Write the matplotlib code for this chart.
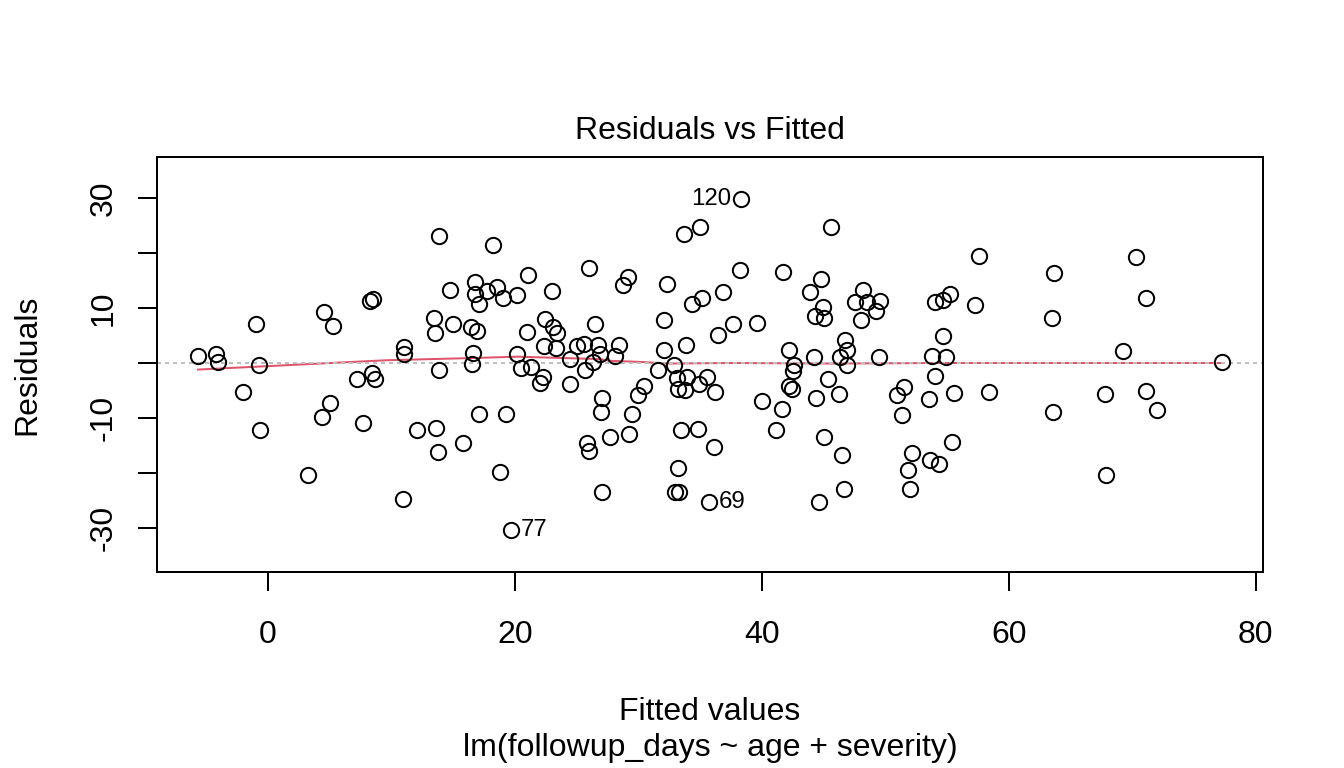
import matplotlib
matplotlib.use('Agg')
import matplotlib.pyplot as plt

# fitted values and residuals
fitted = [-5.67, -4.19, -4.05, -0.97, -0.70, -2.03, -0.62, 3.27, 4.56, 5.24, 5.05, 4.40, 8.24, 8.51, 7.21, 8.43, 8.64, 7.70,
          13.88, 18.23, 26.01, 21.07, 16.80, 14.77, 17.72, 18.53, 16.75, 19.02, 20.15, 17.12, 22.99, 13.45, 13.53, 14.99,
          16.42, 16.94, 20.99, 22.42, 23.07, 23.39, 26.50, 11.05, 11.02, 16.59, 16.53, 13.88, 20.15, 22.37, 23.34, 20.48,
          21.26, 24.45, 25.01, 25.61, 26.69, 26.90, 26.36, 25.66, 22.31, 22.04, 24.42, 27.03, 26.96, 17.07, 19.26, 12.05,
          13.61, 27.71, 15.75, 13.78, 25.82, 26.01, 18.80, 10.89, 27.03, 19.67,
          28.39, 28.12, 28.74, 29.12, 32.28, 33.71, 35.03, 38.31, 38.25, 34.33, 35.17, 36.87, 41.73, 44.76, 43.92, 32.04,
          37.63, 36.47, 39.60, 44.95, 44.33, 45.06, 32.04, 33.87, 31.58, 32.85, 33.12, 33.93, 33.17, 33.79, 34.93, 35.55,
          36.17, 30.44, 29.93, 29.50, 29.23, 33.44, 34.79, 36.11, 33.17, 32.98, 33.31, 35.71, 42.16, 42.57, 42.49, 42.20,
          42.41, 44.19, 45.32, 40.03, 41.63, 44.41, 41.14, 45.06, 44.65,
          45.62, 48.19, 47.54, 48.51, 49.54, 49.27, 48.00, 46.70, 46.86, 46.35, 46.90, 49.51, 46.25, 46.46, 46.62, 50.95,
          51.48, 51.32, 52.19, 51.84, 51.97, 53.59, 54.32, 55.43, 53.54, 55.54, 54.05, 53.78, 54.94, 54.67, 54.05, 54.64,
          55.24, 57.24, 57.59, 58.37,
          63.70, 63.53, 63.56, 70.28, 71.09, 69.29, 67.83, 71.15, 72.02, 67.88, 77.31]
resid = [1.2, 1.6, 0.1, 7.0, -0.4, -5.2, -12.1, -20.4, 9.3, 6.8, -7.2, -9.8, 11.3, 11.6, -3.0, -1.9, -3.0, -11.0,
         23.1, 21.5, 17.3, 16.0, 14.8, 13.3, 13.0, 13.8, 12.5, 11.9, 12.4, 10.8, 13.0, 8.1, 5.4, 7.0,
         6.5, 5.9, 5.7, 8.0, 6.5, 5.5, 7.0, 2.9, 1.7, 1.9, -0.1, -1.3, 1.6, 3.1, 2.8, -1.0,
         -0.8, 0.8, 3.1, 3.5, 3.2, 1.7, 0.1, -1.3, -2.6, -3.7, -3.9, -6.3, -9.0, -9.2, -9.2, -12.1,
         -11.8, -13.5, -14.6, -16.1, -14.5, -16.0, -19.8, -24.7, -23.5, -30.3,
         3.3, 1.3, 14.1, 15.6, 14.3, 23.5, 24.7, 29.8, 16.9, 10.7, 11.9, 12.9, 16.5, 15.3, 12.9, 7.9,
         7.0, 5.1, 7.3, 10.1, 8.5, 8.2, 2.4, 3.3, -1.2, -0.3, -2.7, -2.5, -4.7, -5.0, -3.9, -2.5,
         -5.3, -4.1, -5.9, -9.3, -13.0, -12.2, -12.0, -15.3, -19.1, -23.5, -23.5, -25.2, 2.4, -0.4, -1.5, -4.2,
         -4.7, 1.1, -3.0, -6.9, -8.4, -6.4, -12.2, -13.5, -25.2,
         24.8, 13.3, 11.0, 11.0, 11.2, 9.4, 7.8, 4.2, 2.3, 1.0, -0.4, 1.1, -5.7, -16.7, -22.9, -5.8,
         -4.4, -9.4, -16.3, -19.4, -23.0, -17.6, -18.4, -14.3, -6.5, -5.5, -2.3, 1.3, 1.0, 4.9, 11.0, 11.5,
         12.6, 10.5, 19.5, -5.3,
         16.4, 8.2, -9.0, 19.2, 11.9, 2.2, -5.7, -5.1, -8.5, -20.4, 0.1]

# lowess smoother
smooth_x = [-5.67, 9.6, 16.6, 20.2, 23.9, 26.9, 27.7, 30.1, 32.3, 37.7, 45.5, 55.0, 77.31]
smooth_y = [-1.2, 0.5, 0.9, 1.15, 0.9, 0.7, 0.4, 0.2, -0.1, 0.0, -0.1, 0.0, 0.0]

# the three labelled observations
id_labels = ['120', '77', '69']
id_x = [38.31, 19.67, 35.71]
id_y = [29.8, -30.3, -25.2]

x_ticks = [0, 20, 40, 60, 80]
y_ticks = [-30, -20, -10, 0, 10, 20, 30]
y_ticklabels = ['-30', '', '-10', '', '10', '', '30']

plt.rcParams['font.family'] = ['Liberation Sans', 'DejaVu Sans']
plt.rcParams['axes.unicode_minus'] = False

W, H = 1344, 768
fig = plt.figure(figsize=(W / 100, H / 100), dpi=100)
ax = fig.add_axes([157 / W, 1 - 572 / H, (1263 - 157) / W, (572 - 157) / H])

lw = 1.44
fs = 23

ax.plot(fitted, resid, 'o', ms=11, mfc='none', mec='black', mew=lw, zorder=3)
ax.plot(smooth_x, smooth_y, color='#DF536B', lw=lw, zorder=2)
ax.axhline(0, color='#BEBEBE', lw=lw, ls=(0, (2, 2)), zorder=2.5)

# R puts the id on the left for points right of the middle of the x range
mid = (min(fitted) + max(fitted)) / 2
for lab, x, y in zip(id_labels, id_x, id_y):
    if x > mid:
        ax.annotate(lab, (x, y), xytext=(-7, 0), textcoords='offset points', ha='right', va='center', fontsize=17.3)
    else:
        ax.annotate(lab, (x, y), xytext=(7, 0), textcoords='offset points', ha='left', va='center', fontsize=17.3)

ax.set_xlim(-9.0, 80.6)
ax.set_ylim(-38.0, 37.45)
ax.set_xticks(x_ticks)
ax.set_xticklabels([str(t) for t in x_ticks])
ax.set_yticks(y_ticks)
ax.set_yticklabels(y_ticklabels, rotation=90, va='center')
ax.tick_params(axis='both', length=13.8, width=lw, labelsize=fs, color='black')
ax.tick_params(axis='x', pad=21)
ax.tick_params(axis='y', pad=13.6)
for s in ax.spines.values():
    s.set_linewidth(lw)

fig.text(710 / W, 1 - 139.3 / H, 'Residuals vs Fitted', ha='center', va='baseline', fontsize=fs)
fig.text(710 / W, 1 - 720 / H, 'Fitted values', ha='center', va='baseline', fontsize=fs)
fig.text(710 / W, 1 - 756 / H, 'lm(followup_days ~ age + severity)', ha='center', va='baseline', fontsize=fs)
fig.text(35 / W, 1 - 364.5 / H, 'Residuals', ha='center', va='baseline', rotation=90,
         rotation_mode='anchor', fontsize=fs)

fig.savefig('out.png', dpi=100)
